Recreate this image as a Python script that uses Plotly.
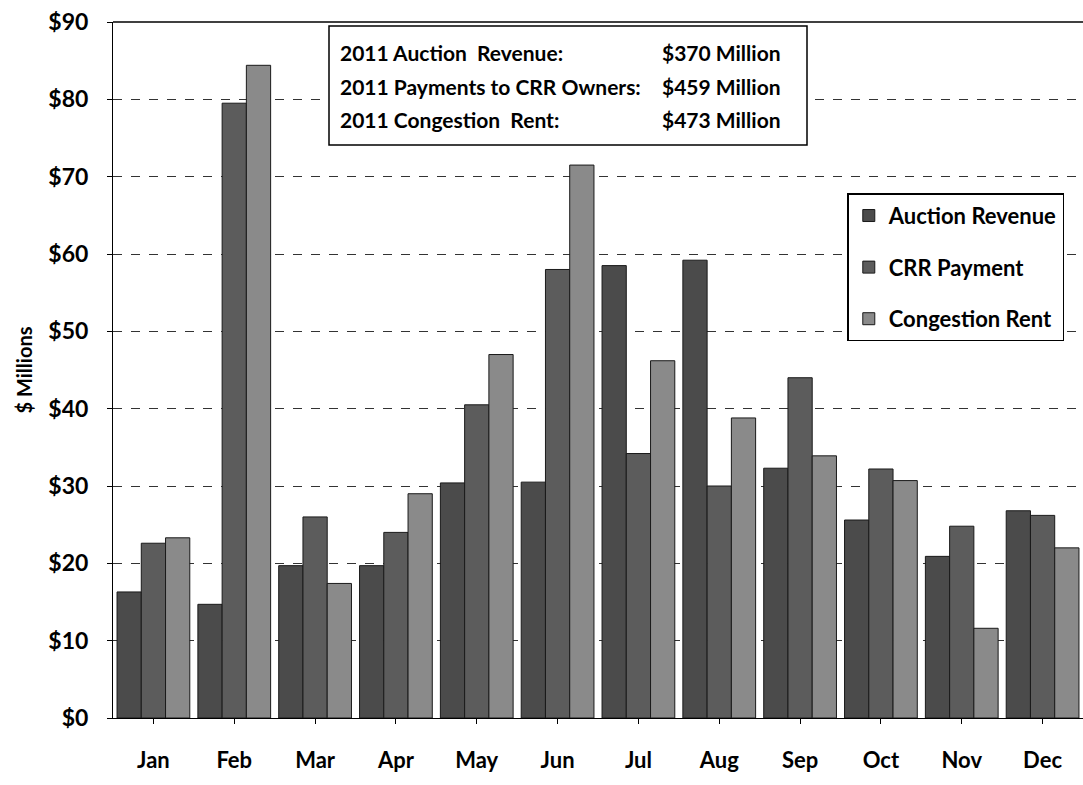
import plotly.graph_objects as go

months = ["Jan", "Feb", "Mar", "Apr", "May", "Jun", "Jul", "Aug", "Sep", "Oct", "Nov", "Dec"]
auction_revenue = [16.3, 14.7, 19.7, 19.7, 30.4, 30.5, 58.5, 59.2, 32.3, 25.6, 20.9, 26.8]
crr_payment = [22.6, 79.5, 26.0, 24.0, 40.5, 58.0, 34.2, 30.0, 44.0, 32.2, 24.8, 26.2]
congestion_rent = [23.3, 84.4, 17.4, 29.0, 47.0, 71.5, 46.2, 38.8, 33.9, 30.7, 11.6, 22.0]
tick_vals = [0, 10, 20, 30, 40, 50, 60, 70, 80, 90]
tick_text = ["$0", "$10", "$20", "$30", "$40", "$50", "$60", "$70", "$80", "$90"]

summary_labels = ["2011 Auction  Revenue:", "2011 Payments to CRR Owners:", "2011 Congestion  Rent:"]
summary_values = ["$370 Million", "$459 Million", "$473 Million"]

FONT = "Lato"

fig = go.Figure()
series = [
    ("Auction Revenue", auction_revenue, "#4b4b4b"),
    ("CRR Payment", crr_payment, "#5c5c5c"),
    ("Congestion Rent", congestion_rent, "#8a8a8a"),
]
for i, (name, vals, col) in enumerate(series):
    fig.add_trace(go.Bar(
        x=months, y=vals, name=name, legendgroup=str(i),
        marker=dict(color=col, line=dict(color="#1a1a1a", width=1)),
    ))

fig.update_layout(
    width=1083, height=785,
    margin=dict(l=113, r=0, t=22, b=67),
    paper_bgcolor="white", plot_bgcolor="white",
    barmode="group", bargap=0.1, bargroupgap=0,
    font=dict(family=FONT, color="black"),
    showlegend=True,
    legend=dict(
        x=0.757, y=0.754, xanchor="left", yanchor="top",
        bordercolor="black", borderwidth=1.5, bgcolor="white",
        font=dict(size=22, family=FONT, weight="bold"),
        traceorder="grouped", tracegroupgap=20,
        itemwidth=30,
    ),
    xaxis=dict(
        showline=True, linecolor="black", linewidth=1,
        ticks="outside", ticklen=5, tickcolor="black",
        tickfont=dict(size=22, family=FONT, weight="bold"),
        ticklabelstandoff=18,
        showgrid=False,
    ),
    yaxis=dict(
        range=[0, 90], tickvals=tick_vals, ticktext=tick_text,
        showline=True, linecolor="black", linewidth=1,
        ticks="outside", ticklen=5, tickcolor="black",
        tickfont=dict(size=23, family=FONT, weight="bold"),
        ticklabelstandoff=14,
        showgrid=True, gridcolor="#333333", gridwidth=1, griddash="dash",
        zeroline=False,
        title=dict(text="$ Millions", font=dict(size=20, family=FONT, weight="bold"), standoff=10),
    ),
)

# top border line of plot
fig.add_shape(type="line", xref="paper", yref="paper", x0=0, x1=1, y0=1, y1=1,
              line=dict(color="black", width=1.5))

# summary box
fig.add_shape(type="rect", xref="paper", yref="paper",
              x0=(329 - 113) / 970, x1=(807 - 113) / 970,
              y0=(718 - 145) / 696, y1=(718 - 26) / 696,
              line=dict(color="black", width=1.5), fillcolor="white", layer="above")
row_y = [52, 87, 120]
for lab, val, py in zip(summary_labels, summary_values, row_y):
    yp = (718 - py) / 696
    fig.add_annotation(xref="paper", yref="paper", x=(338 - 113) / 970, y=yp,
                       text=lab, showarrow=False, xanchor="left", yanchor="middle",
                       font=dict(size=21, family=FONT, weight="bold", color="black"))
    fig.add_annotation(xref="paper", yref="paper", x=(660 - 113) / 970, y=yp,
                       text=val, showarrow=False, xanchor="left", yanchor="middle",
                       font=dict(size=21, family=FONT, weight="bold", color="black"))

fig.write_html("out.html")
